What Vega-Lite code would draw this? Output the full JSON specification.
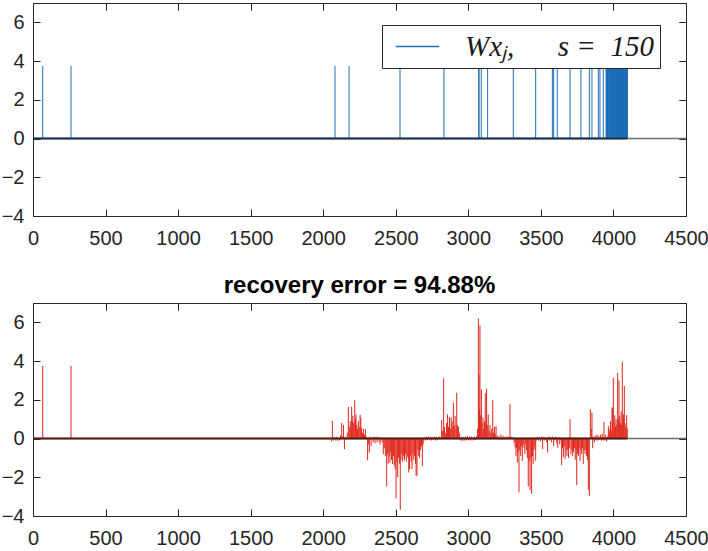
{
  "$schema": "https://vega.github.io/schema/vega-lite/v6.json",
  "background": "white",
  "padding": {"left": 0, "top": 2, "right": 0, "bottom": 0},
  "spacing": 24,
  "config": {
    "view": {"stroke": "#262626", "strokeWidth": 1},
    "axis": {
      "domain": false, "grid": false, "title": null,
      "tickColor": "#262626", "tickSize": -7, "tickWidth": 1,
      "labelColor": "#262626", "labelFont": "Liberation Sans", "labelFontSize": 20,
      "labelFlush": false, "labelOverlap": false, "format": "d"
    },
    "axisX": {"labelPadding": 19},
    "axisY": {"labelPadding": 16}
  },
  "datasets": {
    "base": [{"x0": 0, "x1": 4500, "x2": 4096, "y0": 0}],
    "stems": [
      {"i":67,"v":3.75},{"i":262,"v":3.75},{"i":2081,"v":3.75},{"i":2178,"v":3.75},{"i":2529,"v":3.75},{"i":2832,"v":3.75},
      {"i":3071,"v":3.75},{"i":3074,"v":3.75},{"i":3089,"v":3.75},{"i":3133,"v":3.75},{"i":3310,"v":3.75},{"i":3464,"v":3.75},
      {"i":3579,"v":3.75},{"i":3588,"v":3.75},{"i":3613,"v":3.75},{"i":3701,"v":3.75},{"i":3776,"v":3.75},{"i":3834,"v":3.75},
      {"i":3852,"v":3.75},{"i":3896,"v":3.75},{"i":3907,"v":3.75},{"i":3930,"v":3.75},
      {"i":3950,"v":3.75},{"i":3951,"v":3.75},{"i":3952,"v":3.75},
      {"i":3960,"v":3.75},{"i":3961,"v":3.75},{"i":3962,"v":3.75},{"i":3963,"v":3.75},{"i":3964,"v":3.75},{"i":3965,"v":3.75},{"i":3966,"v":3.75},{"i":3967,"v":3.75},
      {"i":3975,"v":3.75},{"i":3976,"v":3.75},{"i":3977,"v":3.75},{"i":3978,"v":3.75},{"i":3979,"v":3.75},{"i":3980,"v":3.75},{"i":3981,"v":3.75},{"i":3982,"v":3.75},{"i":3983,"v":3.75},{"i":3984,"v":3.75},
      {"i":3985,"v":3.75},{"i":3986,"v":3.75},{"i":3987,"v":3.75},{"i":3988,"v":3.75},{"i":3989,"v":3.75},{"i":3990,"v":3.75},{"i":3991,"v":3.75},{"i":3992,"v":3.75},{"i":3993,"v":3.75},{"i":3994,"v":3.75},
      {"i":3995,"v":3.75},{"i":3996,"v":3.75},{"i":3997,"v":3.75},{"i":3998,"v":3.75},{"i":3999,"v":3.75},{"i":4000,"v":3.75},{"i":4001,"v":3.75},{"i":4002,"v":3.75},{"i":4003,"v":3.75},{"i":4004,"v":3.75},
      {"i":4005,"v":3.75},{"i":4006,"v":3.75},{"i":4007,"v":3.75},{"i":4008,"v":3.75},{"i":4009,"v":3.75},{"i":4010,"v":3.75},{"i":4011,"v":3.75},{"i":4012,"v":3.75},{"i":4013,"v":3.75},{"i":4014,"v":3.75},
      {"i":4015,"v":3.75},{"i":4016,"v":3.75},{"i":4017,"v":3.75},{"i":4018,"v":3.75},{"i":4019,"v":3.75},{"i":4020,"v":3.75},{"i":4021,"v":3.75},{"i":4022,"v":3.75},{"i":4023,"v":3.75},{"i":4024,"v":3.75},
      {"i":4025,"v":3.75},{"i":4026,"v":3.75},{"i":4027,"v":3.75},{"i":4028,"v":3.75},{"i":4029,"v":3.75},{"i":4030,"v":3.75},{"i":4031,"v":3.75},{"i":4032,"v":3.75},{"i":4033,"v":3.75},{"i":4034,"v":3.75},
      {"i":4035,"v":3.75},{"i":4036,"v":3.75},{"i":4037,"v":3.75},{"i":4038,"v":3.75},{"i":4039,"v":3.75},{"i":4040,"v":3.75},{"i":4041,"v":3.75},{"i":4042,"v":3.75},{"i":4043,"v":3.75},{"i":4044,"v":3.75},
      {"i":4045,"v":3.75},{"i":4046,"v":3.75},{"i":4047,"v":3.75},{"i":4048,"v":3.75},{"i":4049,"v":3.75},{"i":4050,"v":3.75},{"i":4051,"v":3.75},{"i":4052,"v":3.75},{"i":4053,"v":3.75},{"i":4054,"v":3.75},
      {"i":4055,"v":3.75},{"i":4056,"v":3.75},{"i":4057,"v":3.75},{"i":4058,"v":3.75},{"i":4059,"v":3.75},{"i":4060,"v":3.75},{"i":4061,"v":3.75},{"i":4062,"v":3.75},{"i":4063,"v":3.75},{"i":4064,"v":3.75},
      {"i":4065,"v":3.75},{"i":4066,"v":3.75},{"i":4067,"v":3.75},{"i":4068,"v":3.75},{"i":4069,"v":3.75},{"i":4070,"v":3.75},{"i":4071,"v":3.75},{"i":4072,"v":3.75},{"i":4073,"v":3.75},{"i":4074,"v":3.75},
      {"i":4075,"v":3.75},{"i":4076,"v":3.75},{"i":4077,"v":3.75},{"i":4078,"v":3.75},{"i":4079,"v":3.75},{"i":4080,"v":3.75},{"i":4081,"v":3.75},{"i":4082,"v":3.75},{"i":4083,"v":3.75},{"i":4084,"v":3.75},
      {"i":4085,"v":3.75},{"i":4086,"v":3.75},{"i":4087,"v":3.75},{"i":4088,"v":3.75},{"i":4089,"v":3.75},{"i":4090,"v":3.75},{"i":4091,"v":3.75},{"i":4092,"v":3.75},{"i":4093,"v":3.75},{"i":4094,"v":3.75},
      {"i":4095,"v":3.75},{"i":4096,"v":3.75}
    ],
    "err": [
      {"i":67,"v":3.75},{"i":262,"v":3.75},
      {"i":2056,"v":-0.15},{"i":2063,"v":0.91},{"i":2070,"v":-0.1},{"i":2077,"v":0.08},{"i":2084,"v":-0.1},{"i":2091,"v":0.1},{"i":2098,"v":-0.12},{"i":2105,"v":0.05},{"i":2112,"v":-0.1},{"i":2119,"v":0.17},{"i":2127,"v":0.8},{"i":2133,"v":0.1},{"i":2140,"v":0.7},{"i":2146,"v":-0.55},{"i":2153,"v":0.1},{"i":2160,"v":-0.05},{"i":2166,"v":0.3},
      {"i":2173,"v":1.63},{"i":2180,"v":0.6},{"i":2187,"v":0.9},{"i":2193,"v":0.5},{"i":2196,"v":1.63},{"i":2200,"v":0.9},{"i":2204,"v":1.17},{"i":2210,"v":0.8},{"i":2217,"v":1.98},{"i":2222,"v":1.0},{"i":2226,"v":1.25},{"i":2231,"v":0.7},{"i":2236,"v":0.48},{"i":2242,"v":0.9},{"i":2248,"v":0.6},{"i":2254,"v":1.22},{"i":2259,"v":1.08},{"i":2264,"v":0.55},{"i":2271,"v":0.3},{"i":2278,"v":0.5},{"i":2285,"v":0.2},{"i":2291,"v":0.48},{"i":2297,"v":0.1},
      {"i":2306,"v":-1.12},{"i":2313,"v":-0.3},{"i":2318,"v":-0.72},{"i":2324,"v":0.1},{"i":2330,"v":-0.38},{"i":2337,"v":0.05},{"i":2344,"v":-0.2},{"i":2351,"v":0.1},{"i":2357,"v":-0.25},{"i":2364,"v":0.08},{"i":2371,"v":-0.2},{"i":2378,"v":0.1},{"i":2385,"v":-0.15},{"i":2392,"v":-0.3},{"i":2399,"v":0.05},{"i":2406,"v":-0.2},{"i":2414,"v":-0.8},
      {"i":2421,"v":-0.5},{"i":2428,"v":-0.9},{"i":2437,"v":-2.46},{"i":2442,"v":-0.8},{"i":2448,"v":-1.3},{"i":2455,"v":-0.9},{"i":2460,"v":-1.24},{"i":2465,"v":-0.7},{"i":2471,"v":-1.1},{"i":2478,"v":-1.32},{"i":2484,"v":-0.9},{"i":2490,"v":-1.4},{"i":2496,"v":-1.6},{"i":2502,"v":-3.09},{"i":2508,"v":-1.2},{"i":2513,"v":-2.0},{"i":2519,"v":-1.0},{"i":2525,"v":-1.3},{"i":2531,"v":-3.68},{"i":2536,"v":-1.1},{"i":2542,"v":-0.8},{"i":2548,"v":-1.2},{"i":2554,"v":-0.9},{"i":2560,"v":-1.1},{"i":2566,"v":-0.8},{"i":2572,"v":-1.2},{"i":2578,"v":-0.9},{"i":2584,"v":-1.0},{"i":2589,"v":-1.75},{"i":2595,"v":-1.58},{"i":2600,"v":-0.9},{"i":2606,"v":-1.2},{"i":2612,"v":-1.58},{"i":2618,"v":-0.8},{"i":2624,"v":-1.1},{"i":2630,"v":-0.9},{"i":2636,"v":-1.3},{"i":2640,"v":-1.92},{"i":2646,"v":-1.92},{"i":2652,"v":-0.6},{"i":2658,"v":-0.9},{"i":2664,"v":-1.0},{"i":2670,"v":-0.6},{"i":2677,"v":-0.4},{"i":2683,"v":-1.41},{"i":2689,"v":-0.3},
      {"i":2696,"v":0.05},{"i":2703,"v":-0.1},{"i":2710,"v":0.1},{"i":2717,"v":-0.08},{"i":2724,"v":0.1},{"i":2731,"v":-0.05},{"i":2738,"v":0.1},{"i":2745,"v":-0.1},{"i":2752,"v":0.08},{"i":2759,"v":-0.05},{"i":2766,"v":0.1},{"i":2773,"v":-0.1},{"i":2780,"v":0.1},{"i":2787,"v":-0.08},{"i":2794,"v":0.05},{"i":2801,"v":0.1},{"i":2808,"v":0.05},
      {"i":2816,"v":0.96},{"i":2823,"v":0.4},{"i":2830,"v":3.11},{"i":2836,"v":0.6},{"i":2844,"v":0.3},{"i":2850,"v":0.8},{"i":2857,"v":1.25},{"i":2863,"v":0.6},{"i":2870,"v":1.1},{"i":2876,"v":0.5},{"i":2882,"v":1.1},{"i":2888,"v":0.9},{"i":2893,"v":0.6},{"i":2897,"v":1.86},{"i":2903,"v":0.7},{"i":2909,"v":1.17},{"i":2915,"v":0.5},{"i":2920,"v":2.37},{"i":2926,"v":0.7},{"i":2932,"v":0.6},{"i":2938,"v":0.3},
      {"i":2945,"v":-0.1},{"i":2952,"v":0.1},{"i":2959,"v":-0.12},{"i":2966,"v":0.08},{"i":2973,"v":-0.1},{"i":2980,"v":0.1},{"i":2987,"v":-0.1},{"i":2994,"v":0.12},{"i":3001,"v":-0.08},{"i":3008,"v":0.1},{"i":3015,"v":-0.1},{"i":3022,"v":0.1},{"i":3029,"v":0.05},{"i":3036,"v":-0.1},{"i":3043,"v":0.1},{"i":3050,"v":-0.08},{"i":3057,"v":0.12},
      {"i":3064,"v":0.5},{"i":3069,"v":6.2},{"i":3073,"v":3.3},{"i":3077,"v":1.5},{"i":3080,"v":5.84},{"i":3085,"v":1.2},{"i":3090,"v":2.54},{"i":3095,"v":0.8},{"i":3101,"v":1.08},{"i":3106,"v":0.5},{"i":3111,"v":0.9},{"i":3117,"v":2.34},{"i":3122,"v":0.8},{"i":3126,"v":2.58},{"i":3131,"v":0.7},{"i":3137,"v":1.25},{"i":3143,"v":0.4},{"i":3149,"v":0.7},{"i":3155,"v":0.3},{"i":3161,"v":0.5},{"i":3168,"v":1.98},{"i":3174,"v":0.3},{"i":3180,"v":0.6},{"i":3186,"v":0.2},{"i":3191,"v":0.65},{"i":3197,"v":0.1},
      {"i":3204,"v":0.15},{"i":3211,"v":-0.05},{"i":3218,"v":0.1},{"i":3225,"v":0.2},{"i":3232,"v":-0.05},{"i":3239,"v":0.15},{"i":3246,"v":0.05},{"i":3253,"v":0.1},{"i":3260,"v":-0.05},{"i":3267,"v":0.12},{"i":3274,"v":0.05},{"i":3280,"v":0.1},{"i":3287,"v":1.79},{"i":3294,"v":0.1},{"i":3301,"v":0.08},{"i":3308,"v":0.05},
      {"i":3315,"v":-0.2},{"i":3322,"v":-0.46},{"i":3328,"v":-0.9},{"i":3333,"v":-0.5},{"i":3338,"v":-1.24},{"i":3344,"v":-0.7},{"i":3349,"v":-2.78},{"i":3355,"v":-0.6},{"i":3361,"v":-0.9},{"i":3366,"v":-0.4},{"i":3372,"v":-1.15},{"i":3378,"v":-0.3},{"i":3384,"v":-0.5},{"i":3390,"v":-0.8},{"i":3396,"v":-0.3},{"i":3402,"v":-0.6},{"i":3407,"v":-1.0},{"i":3413,"v":-2.47},{"i":3419,"v":-1.2},{"i":3425,"v":-2.66},{"i":3431,"v":-1.0},{"i":3436,"v":-2.84},{"i":3442,"v":-0.9},{"i":3447,"v":-1.3},{"i":3453,"v":-0.6},{"i":3459,"v":-0.4},{"i":3464,"v":-1.15},{"i":3470,"v":-0.1},
      {"i":3477,"v":0.1},{"i":3484,"v":-0.1},{"i":3491,"v":0.05},{"i":3498,"v":-0.15},{"i":3505,"v":0.1},{"i":3512,"v":-0.55},{"i":3519,"v":0.08},{"i":3526,"v":-0.1},{"i":3533,"v":0.05},{"i":3540,"v":-0.2},{"i":3546,"v":-0.72},{"i":3553,"v":0.1},{"i":3560,"v":-0.1},{"i":3567,"v":0.08},{"i":3574,"v":-0.2},{"i":3581,"v":0.1},{"i":3588,"v":-0.38},{"i":3595,"v":-0.1},{"i":3602,"v":0.1},{"i":3609,"v":-0.25},{"i":3616,"v":-0.47},{"i":3623,"v":0.05},{"i":3630,"v":-0.3},{"i":3636,"v":-0.1},
      {"i":3643,"v":-1.37},{"i":3649,"v":-0.5},{"i":3655,"v":-0.95},{"i":3661,"v":-0.4},{"i":3667,"v":-1.05},{"i":3673,"v":-0.6},{"i":3679,"v":-0.9},{"i":3685,"v":-0.6},{"i":3690,"v":-1.0},{"i":3696,"v":-0.5},{"i":3701,"v":1.0},{"i":3707,"v":-0.8},{"i":3713,"v":-0.6},{"i":3719,"v":-0.9},{"i":3725,"v":-0.7},{"i":3731,"v":-0.5},{"i":3737,"v":-1.1},{"i":3742,"v":-0.6},{"i":3747,"v":-2.4},{"i":3753,"v":-0.8},{"i":3759,"v":-0.9},{"i":3764,"v":-0.5},{"i":3770,"v":-1.15},{"i":3776,"v":-0.6},{"i":3781,"v":-0.8},{"i":3786,"v":-0.5},{"i":3792,"v":-1.32},{"i":3798,"v":-0.6},{"i":3804,"v":-0.8},{"i":3810,"v":-0.6},{"i":3815,"v":-0.9},{"i":3821,"v":-1.1},{"i":3827,"v":-2.65},{"i":3834,"v":-2.96},{"i":3841,"v":1.51},{"i":3847,"v":0.5},{"i":3852,"v":1.34},{"i":3857,"v":-0.5},
      {"i":3863,"v":0.1},{"i":3869,"v":-0.2},{"i":3875,"v":0.15},{"i":3881,"v":-0.1},{"i":3887,"v":0.2},{"i":3893,"v":-0.1},{"i":3899,"v":0.15},{"i":3905,"v":-0.08},{"i":3911,"v":0.2},{"i":3917,"v":-0.1},{"i":3923,"v":0.25},{"i":3929,"v":-0.1},{"i":3935,"v":0.86},{"i":3941,"v":-0.1},{"i":3947,"v":0.2},{"i":3953,"v":-0.15},{"i":3959,"v":0.1},
      {"i":3965,"v":0.65},{"i":3970,"v":0.3},{"i":3975,"v":0.5},{"i":3980,"v":0.9},{"i":3985,"v":0.4},{"i":3990,"v":1.6},{"i":3995,"v":1.6},{"i":3999,"v":3.14},{"i":4004,"v":0.8},{"i":4009,"v":1.2},{"i":4014,"v":0.6},{"i":4018,"v":1.0},{"i":4023,"v":0.7},{"i":4029,"v":3.4},{"i":4034,"v":1.0},{"i":4038,"v":3.0},{"i":4043,"v":1.17},{"i":4048,"v":0.8},{"i":4053,"v":1.4},{"i":4057,"v":0.7},{"i":4061,"v":3.95},{"i":4066,"v":1.0},{"i":4070,"v":1.25},{"i":4075,"v":2.71},{"i":4080,"v":0.8},{"i":4085,"v":0.6},{"i":4091,"v":1.22},{"i":4095,"v":0.5}
    ]
  },
  "vconcat": [
    {
      "width": 653, "height": 213,
      "layer": [
        {
          "data": {"name": "stems"},
          "mark": {"type": "rule", "strokeWidth": 1},
          "encoding": {
            "x": {"field": "i", "type": "quantitative", "scale": {"domain": [0, 4500], "nice": false, "zero": false},
                  "axis": {"values": [0,500,1000,1500,2000,2500,3000,3500,4000,4500]}},
            "y": {"field": "v", "type": "quantitative", "scale": {"domain": [-4, 7], "nice": false},
                  "axis": {"values": [-4,-2,0,2,4,6]}},
            "y2": {"datum": 0},
            "color": {"datum": "Wxⱼ,\u00a0\u00a0\u00a0\u00a0\u00a0\u00a0s\u00a0=\u00a0\u00a0150", "type": "nominal", "scale": {"range": ["#1f6fb9"]},
              "legend": {"orient": "none", "legendX": 349, "legendY": 22, "title": null,
                "symbolType": "M-1.5,0H1.5", "symbolSize": 841, "symbolStrokeWidth": 1.5, "symbolOffset": 14,
                "labelFont": "Liberation Serif", "labelFontStyle": "italic", "labelFontSize": 29, "labelColor": "#1a1a1a", "labelLimit": 400,
                "strokeColor": "#262626", "fillColor": "white", "padding": 6, "labelOffset": 32}}
          }
        },
        {
          "data": {"name": "base"},
          "mark": {"type": "rule", "color": "#6e6e6e", "strokeWidth": 1.5},
          "encoding": {
            "x": {"field": "x0", "type": "quantitative", "axis": {"orient": "top", "labels": false, "values": [0,500,1000,1500,2000,2500,3000,3500,4000,4500]}},
            "x2": {"field": "x1"},
            "y": {"field": "y0", "type": "quantitative", "axis": {"orient": "right", "labels": false, "values": [-4,-2,0,2,4,6]}}
          }
        },
        {
          "data": {"name": "base"},
          "mark": {"type": "rule", "color": "#14304a", "strokeWidth": 2},
          "encoding": {
            "x": {"field": "x0", "type": "quantitative", "axis": {"orient": "top", "labels": false, "values": [0,500,1000,1500,2000,2500,3000,3500,4000,4500]}},
            "x2": {"field": "x2"},
            "y": {"field": "y0", "type": "quantitative", "axis": {"orient": "right", "labels": false, "values": [-4,-2,0,2,4,6]}}
          }
        }
      ],
      "resolve": {"axis": {"x": "independent", "y": "independent"}}
    },
    {
      "width": 653, "height": 213,
      "title": {"text": "recovery error = 94.88%", "font": "Liberation Sans", "fontSize": 24, "fontWeight": "bold", "color": "#000000", "offset": 5},
      "layer": [
        {
          "data": {"name": "err"},
          "mark": {"type": "rule", "strokeWidth": 1, "color": "#e1251b"},
          "encoding": {
            "x": {"field": "i", "type": "quantitative", "scale": {"domain": [0, 4500], "nice": false, "zero": false},
                  "axis": {"values": [0,500,1000,1500,2000,2500,3000,3500,4000,4500]}},
            "y": {"field": "v", "type": "quantitative", "scale": {"domain": [-4, 7], "nice": false},
                  "axis": {"values": [-4,-2,0,2,4,6]}},
            "y2": {"datum": 0}
          }
        },
        {
          "data": {"name": "base"},
          "mark": {"type": "rule", "color": "#6e6e6e", "strokeWidth": 1.5},
          "encoding": {
            "x": {"field": "x0", "type": "quantitative", "axis": {"orient": "top", "labels": false, "values": [0,500,1000,1500,2000,2500,3000,3500,4000,4500]}},
            "x2": {"field": "x1"},
            "y": {"field": "y0", "type": "quantitative", "axis": {"orient": "right", "labels": false, "values": [-4,-2,0,2,4,6]}}
          }
        },
        {
          "data": {"name": "base"},
          "mark": {"type": "rule", "color": "#5a1a12", "strokeWidth": 2},
          "encoding": {
            "x": {"field": "x0", "type": "quantitative", "axis": {"orient": "top", "labels": false, "values": [0,500,1000,1500,2000,2500,3000,3500,4000,4500]}},
            "x2": {"field": "x2"},
            "y": {"field": "y0", "type": "quantitative", "axis": {"orient": "right", "labels": false, "values": [-4,-2,0,2,4,6]}}
          }
        }
      ],
      "resolve": {"axis": {"x": "independent", "y": "independent"}}
    }
  ]
}
